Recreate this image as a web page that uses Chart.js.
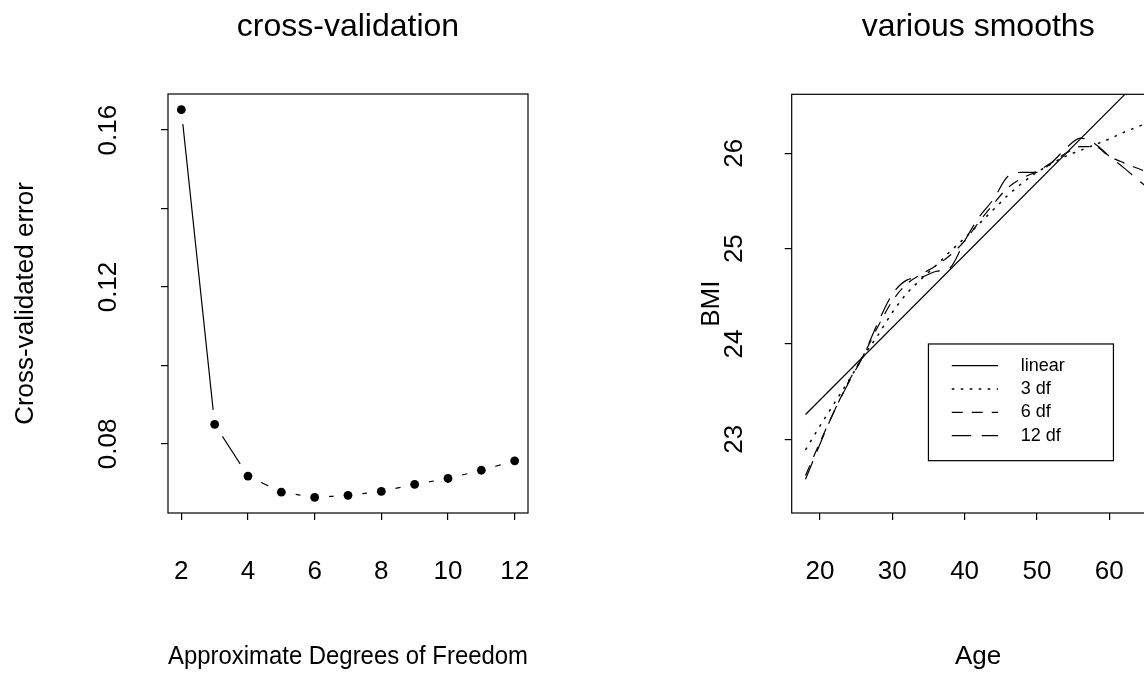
<!DOCTYPE html>
<html><head><meta charset="utf-8">
<script src="https://cdn.jsdelivr.net/npm/chart.js@4/dist/chart.umd.min.js"></script>
<style>
html,body{margin:0;padding:0;background:#fff;overflow:hidden;width:1144px;height:674px;}
#wrap{position:relative;width:1144px;height:674px;overflow:hidden;background:#fff;}
#c1{position:absolute;left:0;top:0;}
#c2{position:absolute;left:572px;top:0;}
</style></head><body>
<div id="wrap"><canvas id="c1" width="572" height="674"></canvas><canvas id="c2" width="640" height="674"></canvas></div>
<script>
const FONT = '"Liberation Sans", Arial, Helvetica, sans-serif';

// ---- Left panel: cross-validation ----
const dfValues = [2, 3, 4, 5, 6, 7, 8, 9, 10, 11, 12];
const cvError  = [0.1652, 0.0850, 0.0718, 0.0677, 0.0664, 0.0669, 0.0679, 0.0697, 0.0712, 0.0733, 0.0757];
const dfTicks = [2, 4, 6, 8, 10, 12];
const cvTicks = [0.08, 0.10, 0.12, 0.14, 0.16];
const cvTickLabels = ['0.08', '', '0.12', '', '0.16'];

// ---- Right panel: various smooths ----
const ages = [18, 20, 22, 24, 26, 28, 30, 32, 34, 36, 38, 40, 42, 44, 46, 48, 50, 52, 54, 56, 58, 60, 62, 64, 66];
const linearAges = [18, 66];
const linearBMI  = [23.26, 26.91];
const bmi3df  = [22.89, 23.14, 23.38, 23.62, 23.87, 24.09, 24.33, 24.53, 24.68, 24.82, 24.97, 25.11, 25.26, 25.41, 25.56, 25.69, 25.80, 25.89, 25.97, 26.03, 26.09, 26.15, 26.22, 26.28, 26.34];
const bmi6df  = [22.62, 22.97, 23.30, 23.61, 23.88, 24.18, 24.45, 24.63, 24.73, 24.82, 24.93, 25.08, 25.28, 25.47, 25.64, 25.74, 25.81, 25.90, 26.00, 26.07, 26.07, 25.97, 25.90, 25.84, 25.78];
const bmi12df = [22.58, 22.95, 23.30, 23.60, 23.88, 24.22, 24.52, 24.67, 24.70, 24.76, 24.80, 25.08, 25.33, 25.52, 25.76, 25.80, 25.80, 25.90, 26.05, 26.16, 26.10, 25.97, 25.85, 25.72, 25.60];
const ageTicks = [20, 30, 40, 50, 60];
const bmiTicks = [23, 24, 25, 26];
const seriesLabels = ['linear', '3 df', '6 df', '12 df'];

const pairs = (xs, ys) => xs.map((x, i) => ({x: x, y: ys[i]}));

const panelTitle = {
  id: 'panelTitle',
  afterDraw(chart, args, opts) {
    const {ctx, chartArea} = chart;
    ctx.save();
    ctx.font = opts.size + 'px ' + FONT;
    ctx.fillStyle = '#000';
    ctx.textAlign = 'center';
    ctx.textBaseline = 'alphabetic';
    ctx.fillText(opts.text, (chartArea.left + chartArea.right) / 2, opts.baseline);
    ctx.restore();
  }
};
const frame = {
  id: 'frame',
  afterDatasetsDraw(chart) {
    const {ctx, chartArea: a} = chart;
    ctx.save();
    ctx.strokeStyle = '#000';
    ctx.lineWidth = 1.2;
    ctx.strokeRect(a.left, a.top, a.right - a.left, a.bottom - a.top);
    ctx.restore();
  }
};
const boxLegend = {
  id: 'boxLegend',
  afterDraw(chart, args, opts) {
    if (!opts || !opts.show) return;
    const {ctx, scales} = chart;
    const left = scales.x.getPixelForValue(opts.anchorX);
    const top = scales.y.getPixelForValue(opts.anchorY);
    ctx.save();
    ctx.fillStyle = '#fff';
    ctx.fillRect(left, top, opts.width, opts.height);
    ctx.strokeStyle = '#000';
    ctx.lineWidth = 1.2;
    ctx.setLineDash([]);
    ctx.strokeRect(left, top, opts.width, opts.height);
    ctx.font = opts.size + 'px ' + FONT;
    ctx.fillStyle = '#000';
    ctx.textAlign = 'left';
    ctx.textBaseline = 'middle';
    chart.data.datasets.forEach((ds, i) => {
      const yy = top + opts.firstRow + i * opts.rowStep;
      ctx.beginPath();
      ctx.setLineDash(ds.borderDash || []);
      ctx.lineWidth = ds.borderWidth;
      ctx.moveTo(left + opts.lineStart, yy);
      ctx.lineTo(left + opts.lineEnd, yy);
      ctx.stroke();
      ctx.fillText(ds.label, left + opts.textX, yy);
    });
    ctx.restore();
  }
};

function axisX(min, max, tickVals, title, titlePad) {
  return {
    type: 'linear', min: min, max: max,
    afterBuildTicks: s => { s.ticks = tickVals.map(v => ({value: v})); },
    afterFit: s => { s.height = 161; },
    grid: {display: true, drawOnChartArea: false, drawTicks: true, tickLength: 7, color: '#000', lineWidth: 1.2},
    border: {display: false},
    ticks: {autoSkip: false, maxRotation: 0, minRotation: 0, padding: 36, color: '#000',
            font: {family: FONT, size: 26}, callback: v => String(v)},
    title: {display: true, text: title, color: '#000', font: {family: FONT, size: 26},
            padding: {top: 0, bottom: 2}}
  };
}
function axisY(min, max, tickVals, labels, width, tickPad, title, titlePad) {
  return {
    type: 'linear', min: min, max: max,
    afterBuildTicks: s => { s.ticks = tickVals.map(v => ({value: v})); },
    afterFit: s => { s.width = width; },
    grid: {display: true, drawOnChartArea: false, drawTicks: true, tickLength: 7, color: '#000', lineWidth: 1.2},
    border: {display: false},
    ticks: {autoSkip: false, minRotation: 90, maxRotation: 90, crossAlign: 'center', padding: tickPad,
            color: '#000', font: {family: FONT, size: 26}, callback: (v, i) => labels[i]},
    title: {display: true, text: title, color: '#000', font: {family: FONT, size: 26},
            padding: {top: titlePad, bottom: 0}}
  };
}

new Chart(document.getElementById('c1'), {
  type: 'line',
  data: {
    datasets: [
      {label: 'points', data: pairs(dfValues, cvError), showLine: false, pointRadius: 4.4,
       pointBackgroundColor: '#000', pointBorderWidth: 0, pointHoverRadius: 4.4},
      {label: 'line', data: pairs(dfValues, cvError), borderColor: '#000', borderWidth: 1.2, tension: 0,
       pointRadius: 14.5, pointBackgroundColor: '#fff', pointBorderWidth: 0, pointHoverRadius: 14.5}
    ]
  },
  options: {
    responsive: false, animation: false, events: [],
    layout: {padding: {top: 94, left: 0, right: 44, bottom: 0}},
    plugins: {legend: {display: false}, tooltip: {enabled: false},
              panelTitle: {text: 'cross-validation', size: 32, baseline: 36}},
    scales: {
      x: axisX(1.6, 12.4, dfTicks, 'Approximate Degrees of Freedom'),
      y: axisY(0.0624, 0.1692, cvTicks, cvTickLabels, 168, 26.4, 'Cross-validated error', 10.4)
    }
  },
  plugins: [panelTitle, frame]
});

new Chart(document.getElementById('c2'), {
  type: 'line',
  data: {
    datasets: [
      {label: seriesLabels[0], data: pairs(linearAges, linearBMI), borderColor: '#000', borderWidth: 1.2, pointRadius: 0, tension: 0},
      {label: seriesLabels[1], data: pairs(ages, bmi3df), borderColor: '#000', borderWidth: 1.5, pointRadius: 0, cubicInterpolationMode: 'monotone', borderDash: [2.6, 6.4]},
      {label: seriesLabels[2], data: pairs(ages, bmi6df), borderColor: '#000', borderWidth: 1.2, pointRadius: 0, cubicInterpolationMode: 'monotone', borderDash: [11, 9]},
      {label: seriesLabels[3], data: pairs(ages, bmi12df), borderColor: '#000', borderWidth: 1.2, pointRadius: 0, cubicInterpolationMode: 'monotone', borderDash: [19.5, 10.5]}
    ]
  },
  options: {
    responsive: false, animation: false, events: [],
    layout: {padding: {top: 94.3, left: 0, right: 47.4, bottom: 0}},
    plugins: {legend: {display: false}, tooltip: {enabled: false},
              panelTitle: {text: 'various smooths', size: 32, baseline: 36},
              boxLegend: {show: true, anchorX: 35, anchorY: 24, width: 185, height: 116.7,
                          firstRow: 21.7, rowStep: 23.3, lineStart: 23.3, lineEnd: 69.6, textX: 92.3, size: 18}},
    scales: {
      x: axisX(16.09, 67.66, ageTicks, 'Age'),
      y: axisY(22.227, 26.619, bmiTicks, bmiTicks.map(String), 219.7, 35.9, 'BMI', 124.4)
    }
  },
  plugins: [panelTitle, frame, boxLegend]
});
</script>
</body></html>
